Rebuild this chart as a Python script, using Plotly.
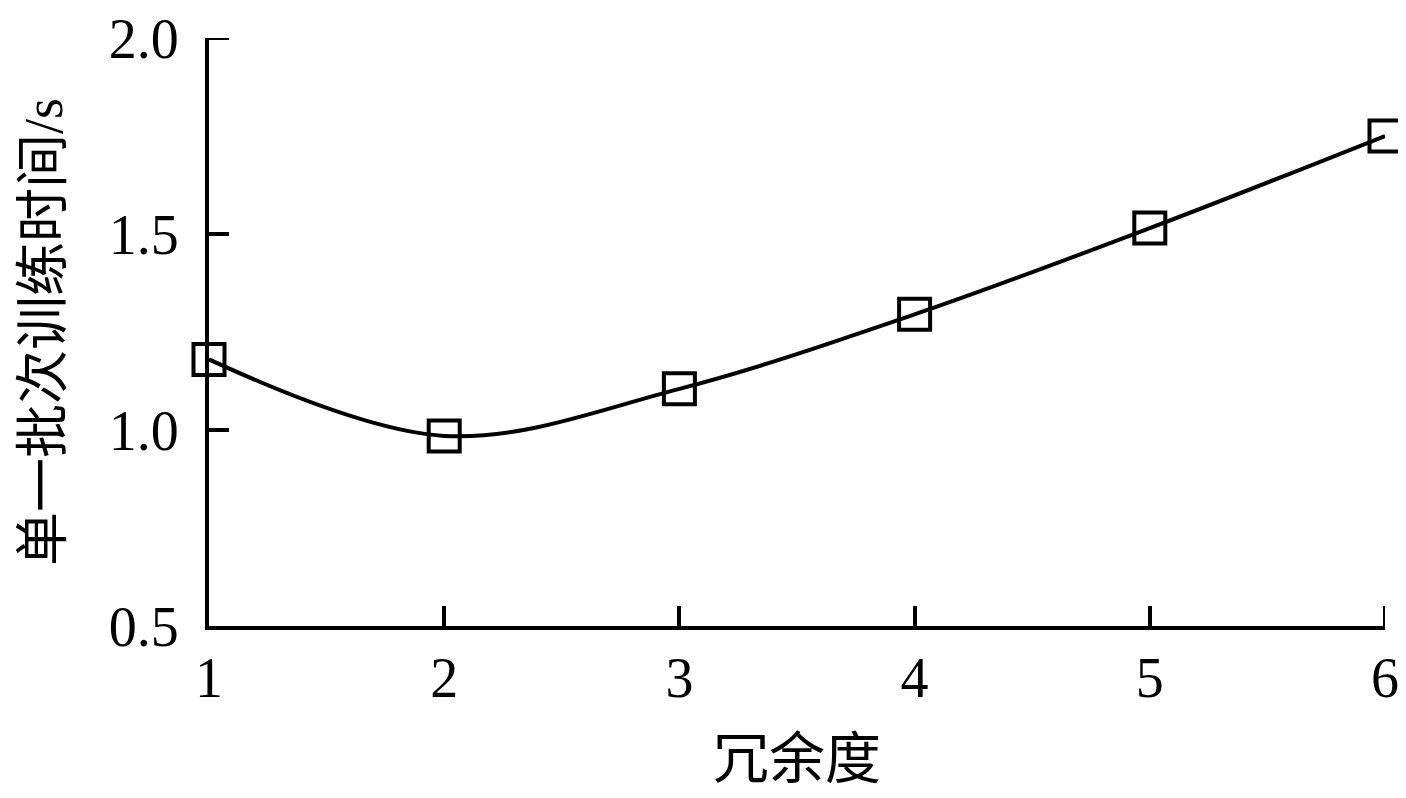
import plotly.graph_objects as go

redundancy = [1, 2, 3, 4, 5, 6]
batch_time = [1.18, 0.985, 1.105, 1.295, 1.515, 1.75]
x_ticks = [1, 2, 3, 4, 5, 6]
y_ticks = [0.5, 1.0, 1.5, 2.0]
y_tick_text = ["0.5", "1.0", "1.5", "2.0"]

FONT = "Liberation Serif, Times New Roman, Noto Sans CJK SC, serif"
TICK_LEN = 20
TICK_W = 4

fig = go.Figure()
fig.add_trace(go.Scatter(
    x=redundancy, y=batch_time,
    mode="lines+markers",
    line=dict(color="black", width=4, shape="spline", smoothing=1),
    marker=dict(symbol="square-open", size=31, color="black", line=dict(width=4, color="black")),
    cliponaxis=False,
    showlegend=False,
))

# plotly drops inside ticks sitting on the far range ends; redraw those two tick marks
fig.add_shape(type="line", xref="x", x0=x_ticks[-1], x1=x_ticks[-1],
              yref="paper", ysizemode="pixel", yanchor=0, y0=0, y1=TICK_LEN,
              line=dict(color="black", width=TICK_W), layer="above")
fig.add_shape(type="line", yref="y", y0=y_ticks[-1], y1=y_ticks[-1],
              xref="paper", xsizemode="pixel", xanchor=0, x0=0, x1=TICK_LEN,
              line=dict(color="black", width=TICK_W), layer="above")

fig.update_layout(
    width=1390, height=782,
    margin=dict(l=201, r=13, t=30, b=164),
    paper_bgcolor="white", plot_bgcolor="white",
    font=dict(family=FONT, color="black"),
    xaxis=dict(
        range=[1, 6], tickvals=x_ticks, ticktext=[str(v) for v in x_ticks],
        showgrid=False, zeroline=False, showline=True, linecolor="black", linewidth=4,
        ticks="inside", ticklen=TICK_LEN, tickwidth=TICK_W, tickcolor="black",
        ticklabelposition="outside", ticklabeloverflow="allow",
        tickfont=dict(size=56, family=FONT), ticklabelstandoff=0,
        title=dict(text="冗余度", font=dict(size=56, family=FONT), standoff=35),
        automargin=False,
    ),
    yaxis=dict(
        range=[0.5, 2.0], tickvals=y_ticks, ticktext=y_tick_text,
        showgrid=False, zeroline=False, showline=True, linecolor="black", linewidth=4,
        ticks="inside", ticklen=TICK_LEN, tickwidth=TICK_W, tickcolor="black",
        ticklabelposition="outside", ticklabeloverflow="allow",
        tickfont=dict(size=56, family=FONT), ticklabelstandoff=15,
        title=dict(text="单一批次训练时间/s", font=dict(size=54, family=FONT), standoff=30),
        automargin=False,
    ),
)

fig.write_html("out.html")
